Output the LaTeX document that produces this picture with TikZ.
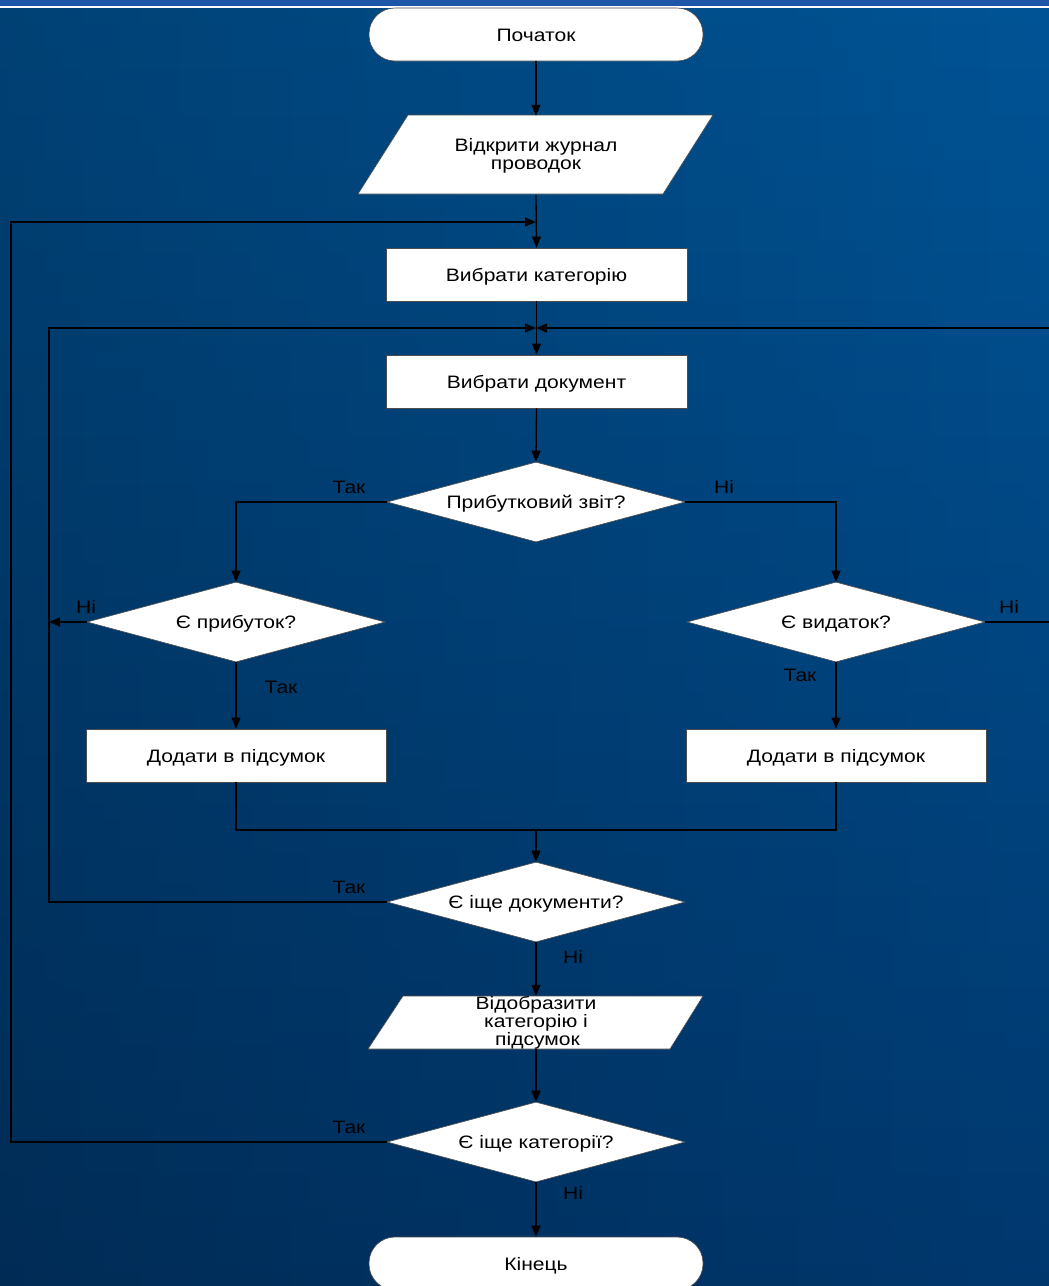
\documentclass[tikz,border=0pt]{standalone}
\usepackage{fontspec}
\setmainfont{Liberation Sans}[FakeStretch=1.17]
\usetikzlibrary{shapes.geometric,arrows.meta,fadings}
\definecolor{bgtop}{RGB}{0,84,150}
\definecolor{bgbot}{RGB}{0,56,110}
\definecolor{band}{RGB}{30,86,168}
\tikzfading[name=fadeR, left color=transparent!0, right color=transparent!100]
\tikzset{
  arr/.style={-{Triangle[length=11pt,width=9pt]}},
  ln/.style={line width=1.3pt,black},
  tfix/.style={text height=13pt, text depth=0pt},
  boxn/.style={draw=black!70, line width=0.6pt, fill=white, rectangle, minimum width=301pt, minimum height=53pt, inner sep=0pt, font=\fontsize{18}{18}\selectfont, text=black, tfix},
  decn/.style={draw=black!70, line width=0.6pt, fill=white, diamond, aspect=3.725, minimum width=298pt, minimum height=80pt, inner sep=0pt, font=\fontsize{18}{18}\selectfont, text=black, tfix},
  termn/.style={draw=black!70, line width=0.6pt, fill=white, rectangle, rounded corners=26pt, minimum width=334pt, minimum height=53pt, inner sep=0pt, font=\fontsize{18}{18}\selectfont, text=black, tfix},
  txtn/.style={inner sep=0pt, align=center, font=\fontsize{18}{18}\selectfont, text=black},
  lbl/.style={inner sep=0pt, font=\fontsize{18}{18}\selectfont, text=black, tfix},
  par/.style={draw=black!70, line width=0.6pt, fill=white}
}
\begin{document}
\begin{tikzpicture}[x=1pt,y=-1pt]
\useasboundingbox (0,0) rectangle (1049,1286);
\clip (0,0) rectangle (1049,1286);
% background
\shade[top color=bgtop, bottom color=bgbot] (0,0) rectangle (1049,1286);
\fill[black, path fading=fadeR, opacity=0.22] (0,0) rectangle (1049,1286);
\fill[band] (0,0) rectangle (1049,5.5);
\fill[white] (0,6) rectangle (1049,8);

% terminals
\node[termn] (start) at (536,34.5) {Початок};
% parallelogram 1
\draw[par] (408,115) -- (713,115) -- (663,194) -- (358,194) -- cycle;
\node[txtn, minimum width=305pt, minimum height=79pt] (p1) at (536,155.5) {Відкрити журнал\\проводок};
\node[boxn] (cat) at (536.5,274.5) {Вибрати категорію};
\node[boxn] (doc) at (536.5,381.5) {Вибрати документ};
\node[decn] (d1) at (536,502) {Прибутковий звіт?};
\node[decn] (d2) at (236,622) {Є прибуток?};
\node[decn] (d3) at (836,622) {Є видаток?};
\node[boxn, minimum width=300pt] (r1) at (236,755.5) {Додати в підсумок};
\node[boxn, minimum width=300pt] (r2) at (836,755.5) {Додати в підсумок};
\node[decn] (d5) at (536,902) {Є іще документи?};
\draw[par] (403,996) -- (703,996) -- (670,1049) -- (368,1049) -- cycle;
\node[txtn, minimum width=300pt, minimum height=53pt] (p2) at (536,1022.5) {Відобразити\\категорію і\\\,підсумок};
\node[decn] (d6) at (536,1142) {Є іще категорії?};
\node[termn] (end) at (536,1263.5) {Кінець};

% coordinates
\coordinate (j1) at (536,222);
\coordinate (j2) at (536,328);
\coordinate (l1) at (11,222);
\coordinate (l2) at (49,328);
\coordinate (l2a) at (49,622);
\coordinate (rr) at (1062,328);
\coordinate (rra) at (1062,622);
\coordinate (m1) at (536,830);

% connectors
\draw[ln,arr] (start.south) -- (p1.north);
\draw[ln,arr] (p1.south) -- (cat.north);
\draw[ln,arr] (cat.south) -- (doc.north);
\draw[ln,arr] (doc.south) -- (d1.north);
\draw[ln,arr] (d1.west) -| (d2.north);
\draw[ln,arr] (d1.east) -| (d3.north);
\draw[ln,arr] (d2.west) -- (l2a);
\draw[ln,arr] (d2.south) -- (r1.north);
\draw[ln,arr] (d3.south) -- (r2.north);
\draw[ln,arr] (d3.east) -- (rra) -- (rr) -- (j2);
\draw[ln] (r1.south) |- (m1);
\draw[ln] (r2.south) |- (m1);
\draw[ln,arr] (m1) -- (d5.north);
\draw[ln,arr] (d5.west) -| (l2) -- (j2);
\draw[ln,arr] (d5.south) -- (p2.north);
\draw[ln,arr] (p2.south) -- (d6.north);
\draw[ln,arr] (d6.west) -| (l1) -- (j1);
\draw[ln,arr] (d6.south) -- (end.north);

% labels
\node[lbl] (t1) at (349,487) {Так};
\node[lbl] (n1) at (724,487) {Ні};
\node[lbl] (n2) at (86,607) {Ні};
\node[lbl] (t2) at (281,687) {Так};
\node[lbl] (t3) at (800,675) {Так};
\node[lbl] (n3) at (1009,607) {Ні};
\node[lbl] (t4) at (349,887) {Так};
\node[lbl] (n4) at (573,957) {Ні};
\node[lbl] (t5) at (349,1127) {Так};
\node[lbl] (n5) at (573,1193) {Ні};
\end{tikzpicture}
\end{document}
